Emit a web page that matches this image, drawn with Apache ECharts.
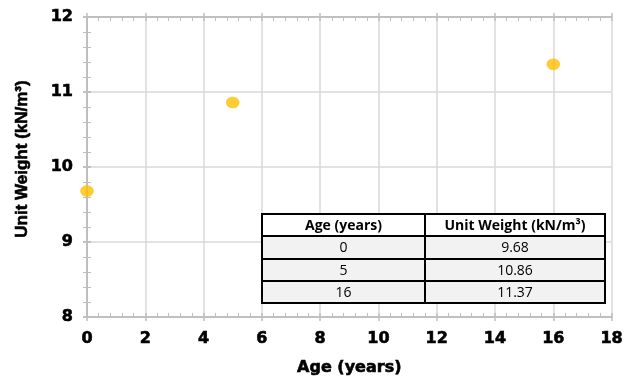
<!DOCTYPE html>
<html><head><meta charset="utf-8">
<script src="https://cdn.jsdelivr.net/npm/echarts@6/dist/echarts.min.js"></script>
<style>html,body{margin:0;padding:0;background:#fff}#c{width:626px;height:383px}</style>
</head><body><div id="c"></div>
<script>
const ages = [0, 5, 16];
const unitWeights = [9.68, 10.86, 11.37];
const xTitle = 'Age (years)';
const yTitle = 'Unit Weight (kN/m³)';
const tableHeaders = ['Age (years)', 'Unit Weight (kN/m³)'];
const ageLabels = ['0', '5', '16'];
const weightLabels = ['9.68', '10.86', '11.37'];

const FONT = 'DejaVu Sans, sans-serif';
const YFONT = 'Liberation Sans, Arial, sans-serif';
const TFONT = 'Open Sans, Liberation Sans, sans-serif';
const chart = echarts.init(document.getElementById('c'), null, {renderer: 'canvas'});

const axisCol = '#bfbfbf';
function baseX(extra) {
  return Object.assign({type: 'value', min: 0, max: 18, interval: 2, gridIndex: 0,
    axisLine: {show: true, lineStyle: {color: axisCol, width: 1.5}},
    splitLine: {show: false}, axisLabel: {show: false}}, extra);
}
function baseY(extra) {
  return Object.assign({type: 'value', min: 8, max: 12, interval: 1, gridIndex: 0,
    axisLine: {show: true, lineStyle: {color: axisCol, width: 1.5}},
    splitLine: {show: false}, axisLabel: {show: false}}, extra);
}
const heavy = {textBorderColor: '#000', textBorderWidth: 0.6};

// table layout
const tL = 262, tR = 605, tMid = 425, tTop = 214;
const rowH = [22, 23, 22, 22];
const graphics = [];
let y = tTop;
const rows = [tableHeaders].concat(ageLabels.map((a, i) => [a, weightLabels[i]]));
rows.forEach((r, i) => {
  const h = rowH[i];
  graphics.push({type: 'rect', shape: {x: tL, y: y, width: tMid - tL, height: h},
    style: {fill: i === 0 ? '#ffffff' : '#f2f2f2', stroke: '#000', lineWidth: 2}, z: 100});
  graphics.push({type: 'rect', shape: {x: tMid, y: y, width: tR - tMid, height: h},
    style: {fill: i === 0 ? '#ffffff' : '#f2f2f2', stroke: '#000', lineWidth: 2}, z: 100});
  graphics.push({type: 'text', x: (tL + tMid) / 2, y: y + h / 2 + 1, z: 101,
    style: {text: r[0], fill: '#000', font: (i === 0 ? 'bold ' : '') + '14px ' + TFONT, textAlign: 'center', textVerticalAlign: 'middle'}});
  graphics.push({type: 'text', x: (tMid + tR) / 2, y: y + h / 2 + 1, z: 101,
    style: {text: r[1], fill: '#000', font: (i === 0 ? 'bold ' : '') + '14px ' + TFONT, textAlign: 'center', textVerticalAlign: 'middle'}});
  y += h;
});

chart.setOption({
  animation: false,
  backgroundColor: '#fff',
  grid: {left: 87, right: 10, top: 17, bottom: 66, containLabel: false},
  xAxis: [
    baseX({position: 'bottom', name: xTitle, nameLocation: 'middle', nameGap: 43,
      nameTextStyle: Object.assign({color: '#000', fontWeight: 'bold', fontSize: 16, fontFamily: FONT}, heavy),
      axisLabel: Object.assign({show: true, color: '#000', fontWeight: 'bold', fontSize: 16, fontFamily: FONT, margin: 14}, heavy),
      axisTick: {show: true, inside: false, length: 4, lineStyle: {color: axisCol, width: 1.5}},
      splitLine: {show: true, lineStyle: {color: '#d9d9d9', width: 1.5}}}),
    baseX({position: 'bottom',
      axisTick: {show: true, inside: true, length: 4, lineStyle: {color: axisCol, width: 1.5}},
      minorTick: {show: true, splitNumber: 5, length: 4, lineStyle: {color: axisCol, width: 1}}}),
    baseX({position: 'top',
      axisTick: {show: true, inside: false, length: 4, lineStyle: {color: axisCol, width: 1.5}}}),
    baseX({position: 'top',
      axisTick: {show: true, inside: true, length: 4, lineStyle: {color: axisCol, width: 1.5}},
      minorTick: {show: true, splitNumber: 5, length: 4, lineStyle: {color: axisCol, width: 1}}})
  ],
  yAxis: [
    baseY({position: 'left', name: yTitle, nameLocation: 'middle', nameGap: 56, nameRotate: 90,
      nameTextStyle: Object.assign({color: '#000', fontWeight: 'bold', fontSize: 17, fontFamily: YFONT, padding: [0, 0, 0, 16]}, heavy),
      axisLabel: Object.assign({show: true, color: '#000', fontWeight: 'bold', fontSize: 16, fontFamily: FONT, margin: 14}, heavy),
      axisTick: {show: true, inside: false, length: 4, lineStyle: {color: axisCol, width: 1.5}},
      splitLine: {show: true, lineStyle: {color: '#d9d9d9', width: 1.5}}}),
    baseY({position: 'left',
      axisTick: {show: true, inside: true, length: 4, lineStyle: {color: axisCol, width: 1.5}},
      minorTick: {show: true, splitNumber: 5, length: 4, lineStyle: {color: axisCol, width: 1}}}),
    baseY({position: 'right',
      axisTick: {show: true, inside: false, length: 4, lineStyle: {color: axisCol, width: 1.5}}}),
    baseY({position: 'right',
      axisTick: {show: true, inside: true, length: 4, lineStyle: {color: axisCol, width: 1.5}},
      minorTick: {show: true, splitNumber: 5, length: 4, lineStyle: {color: axisCol, width: 1}}})
  ],
  series: [{
    type: 'scatter', xAxisIndex: 0, yAxisIndex: 0,
    data: ages.map((a, i) => [a, unitWeights[i]]),
    symbol: 'circle', symbolSize: [13, 11],
    itemStyle: {color: '#FFC000', borderColor: '#f5b800', borderWidth: 0.5},
    z: 10
  }],
  graphic: graphics
});
</script></body></html>
